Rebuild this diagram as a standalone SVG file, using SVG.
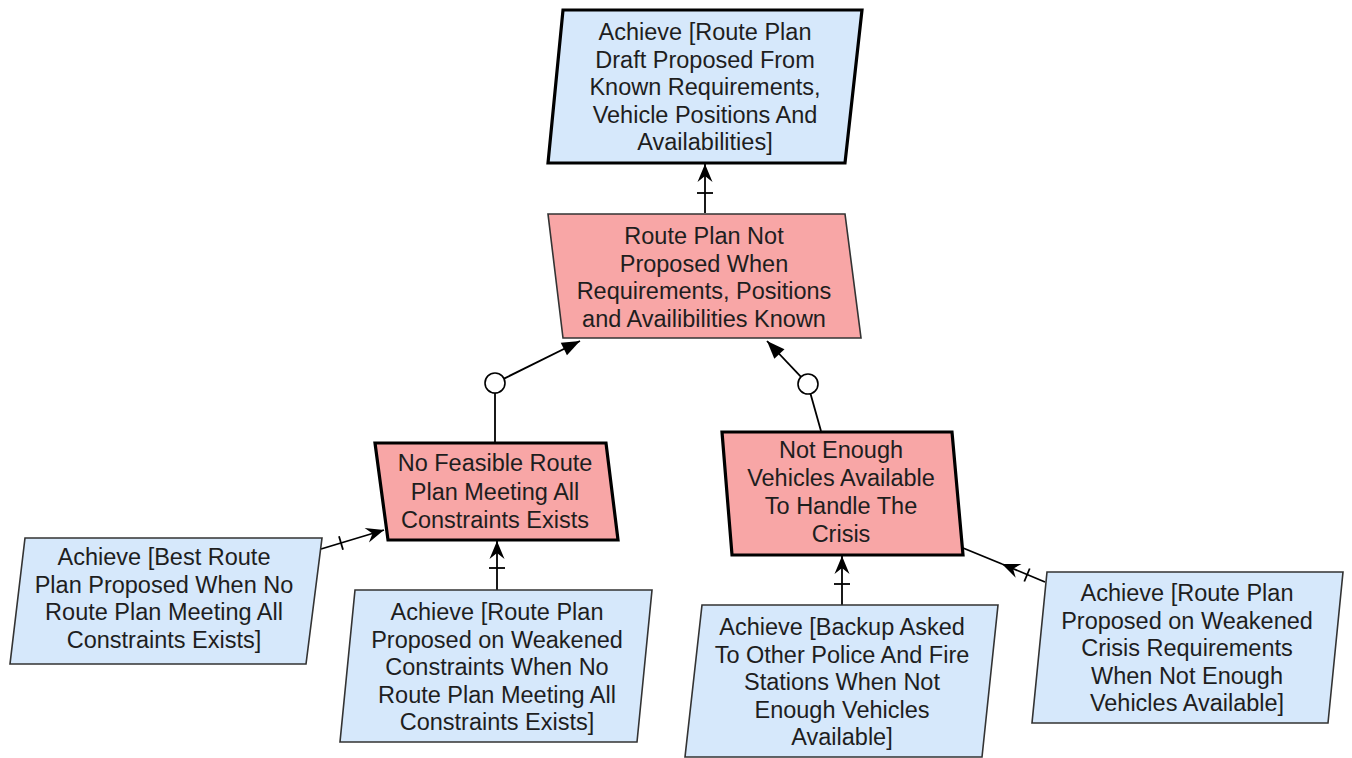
<svg xmlns="http://www.w3.org/2000/svg" width="1352" height="758" viewBox="0 0 1352 758">
<style>
text{font-family:"Liberation Sans",Arial,sans-serif;font-size:23.5px;fill:#1e1e1e;text-anchor:middle}
.blue{fill:#d6e8fb}
.pink{fill:#f8a6a6}
.thick{stroke:#000;stroke-width:3.2;stroke-linejoin:miter}
.thin{stroke:#333;stroke-width:1.6}
.ln{stroke:#000;stroke-width:1.8;fill:none}
.circ{fill:#fff;stroke:#000;stroke-width:1.6}
</style>
<defs>
<marker id="conc" markerUnits="userSpaceOnUse" viewBox="-20 -10 22 20" markerWidth="22" markerHeight="20" refX="0" refY="0" orient="auto" overflow="visible">
<path d="M0,0 L-18,-7.5 L-12,0 L-18,7.5 Z" fill="#000"/>
</marker>
<marker id="block" markerUnits="userSpaceOnUse" viewBox="-20 -10 22 20" markerWidth="22" markerHeight="20" refX="0" refY="0" orient="auto" overflow="visible">
<path d="M0,0 L-18,-7 L-18,7 Z" fill="#000"/>
</marker>
</defs>
<g id="connectors">
<line class="ln" x1="705" y1="213" x2="705" y2="164" marker-end="url(#conc)"/>
<line class="ln" x1="697" y1="193" x2="713" y2="193"/>
<line class="ln" x1="495" y1="442" x2="495" y2="393"/>
<circle class="circ" cx="495" cy="383" r="10"/>
<line class="ln" x1="504" y1="378.6" x2="580" y2="341" marker-end="url(#block)"/>
<line class="ln" x1="821" y1="431" x2="810.5" y2="393.7"/>
<circle class="circ" cx="808" cy="384" r="10"/>
<line class="ln" x1="801" y1="376.8" x2="767" y2="341" marker-end="url(#block)"/>
<line class="ln" x1="321" y1="549" x2="384" y2="530" marker-end="url(#conc)"/>
<line class="ln" x1="339" y1="536.3" x2="343" y2="549.7"/>
<line class="ln" x1="497" y1="590" x2="497" y2="541" marker-end="url(#conc)"/>
<line class="ln" x1="489" y1="568" x2="505" y2="568"/>
<line class="ln" x1="842" y1="605" x2="842" y2="556" marker-end="url(#conc)"/>
<line class="ln" x1="834" y1="584" x2="850" y2="584"/>
<line class="ln" x1="1045" y1="582" x2="1002" y2="564" marker-end="url(#conc)"/>
<line class="ln" x1="1002" y1="564" x2="963" y2="548"/>
<line class="ln" x1="1024.3" y1="581.5" x2="1029.7" y2="568.5"/>
</g>
<g id="n_top">
<polygon class="blue thick" points="563,10 862,10 845,163 548,163"/>
<text x="705" y="40">Achieve [Route Plan</text>
<text x="705" y="67.5">Draft Proposed From</text>
<text x="705" y="95">Known Requirements,</text>
<text x="705" y="122.5">Vehicle Positions And</text>
<text x="705" y="150">Availabilities]</text>
</g>
<g id="n_mid">
<polygon class="pink thin" points="548,214 845,214 861,338 563,338"/>
<text x="704" y="244">Route Plan Not</text>
<text x="704" y="271.5">Proposed When</text>
<text x="704" y="299">Requirements, Positions</text>
<text x="704" y="326.5">and Availibilities Known</text>
</g>
<g id="n_left">
<polygon class="pink thick" points="375,443 606,443 618,540 388,540"/>
<text x="495" y="471">No Feasible Route</text>
<text x="495" y="499.5">Plan Meeting All</text>
<text x="495" y="528">Constraints Exists</text>
</g>
<g id="n_right">
<polygon class="pink thick" points="722,432 952,432 963,555 732,555"/>
<text x="841" y="458">Not Enough</text>
<text x="841" y="486">Vehicles Available</text>
<text x="841" y="514">To Handle The</text>
<text x="841" y="541.5">Crisis</text>
</g>
<g id="n_bl">
<polygon class="blue thin" points="25,538 322,538 306,664 10,664"/>
<text x="164" y="565">Achieve [Best Route</text>
<text x="164" y="592.5">Plan Proposed When No</text>
<text x="164" y="620">Route Plan Meeting All</text>
<text x="164" y="647.5">Constraints Exists]</text>
</g>
<g id="n_bml">
<polygon class="blue thin" points="355,590 652,590 637,742 340,742"/>
<text x="497" y="620">Achieve [Route Plan</text>
<text x="497" y="647.5">Proposed on Weakened</text>
<text x="497" y="675">Constraints When No</text>
<text x="497" y="702.5">Route Plan Meeting All</text>
<text x="497" y="730">Constraints Exists]</text>
</g>
<g id="n_bmr">
<polygon class="blue thin" points="702,605 998,605 982,757 685,757"/>
<text x="842" y="635">Achieve [Backup Asked</text>
<text x="842" y="662.5">To Other Police And Fire</text>
<text x="842" y="690">Stations When Not</text>
<text x="842" y="717.5">Enough Vehicles</text>
<text x="842" y="745">Available]</text>
</g>
<g id="n_br">
<polygon class="blue thin" points="1047,572 1343,572 1328,723 1032,723"/>
<text x="1187" y="601">Achieve [Route Plan</text>
<text x="1187" y="628.5">Proposed on Weakened</text>
<text x="1187" y="656">Crisis Requirements</text>
<text x="1187" y="683.5">When Not Enough</text>
<text x="1187" y="711">Vehicles Available]</text>
</g>
</svg>
